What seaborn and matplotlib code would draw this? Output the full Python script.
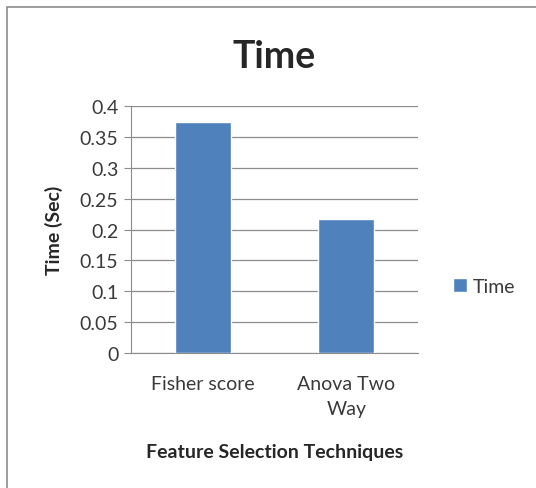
import pandas as pd
import matplotlib.pyplot as plt
import seaborn as sns
from matplotlib.patches import Rectangle

# data
techniques = ["Fisher score", "Anova Two\nWay"]
times = [0.374, 0.217]
series_name = "Time"

df = pd.DataFrame({"technique": techniques, "time": times, "series": series_name})

sns.set_style("white")
plt.rcParams['font.family'] = ['Lato', 'DejaVu Sans']

fig = plt.figure(figsize=(5.36, 4.89), dpi=100)
ax = fig.add_axes([0.244, 0.276, 0.536, 0.505])

sns.barplot(data=df, x="technique", y="time", hue="series", palette=["#4f81bd"],
            saturation=1, width=0.39, ax=ax, zorder=3)

ax.set_ylim(0, 0.4)
ax.set_yticks([0, 0.05, 0.1, 0.15, 0.2, 0.25, 0.3, 0.35, 0.4])
ax.set_yticklabels(["0", "0.05", "0.1", "0.15", "0.2", "0.25", "0.3", "0.35", "0.4"])
ax.yaxis.grid(True, color="#8c8c8c", linewidth=0.9, zorder=0)
ax.set_axisbelow(True)
for s in ["top", "right"]:
    ax.spines[s].set_visible(False)
for s in ["left", "bottom"]:
    ax.spines[s].set_color("#8c8c8c")
ax.tick_params(axis="y", left=True, length=5, color="#8c8c8c", labelsize=14,
               labelcolor="#3a3a3a", pad=4)
ax.tick_params(axis="x", bottom=False, labelsize=14, labelcolor="#3a3a3a", pad=12)
for lbl in ax.get_xticklabels():
    lbl.set_linespacing(1.6)

ax.set_title("Time", fontsize=27, fontweight="bold", pad=28)
ax.set_ylabel("Time (Sec)", fontsize=14, fontweight="bold", labelpad=12)
ax.set_xlabel("Feature Selection Techniques", fontsize=14, fontweight="bold", labelpad=19)

leg = ax.legend(loc="center left", bbox_to_anchor=(1.06, 0.27), frameon=False,
                fontsize=14, handlelength=0.75, handleheight=0.75, handletextpad=0.25)
for t in leg.get_texts():
    t.set_color("#3a3a3a")

# outer border of the chart area
fig.patches.append(Rectangle((7 / 536, -0.01), 1.0, 1 - 8 / 489 + 0.01,
                             transform=fig.transFigure, fill=False,
                             edgecolor="#8c8c8c", linewidth=1.2))

fig.savefig("out.png", dpi=100)
